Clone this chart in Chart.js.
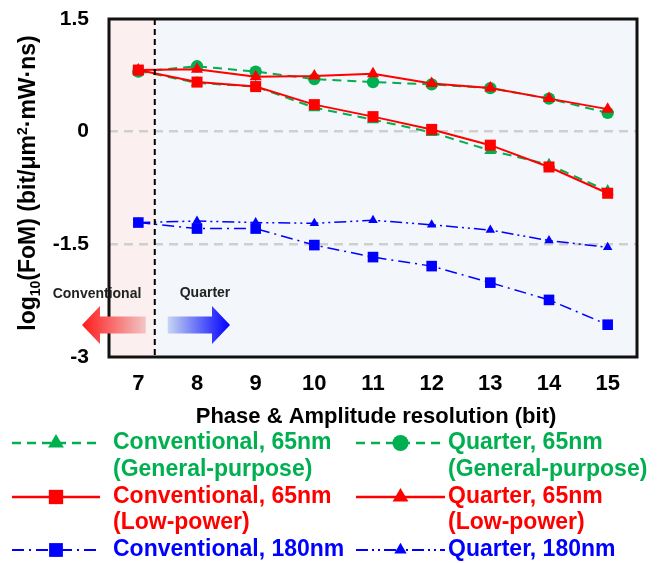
<!DOCTYPE html>
<html>
<head>
<meta charset="utf-8">
<script src="https://cdn.jsdelivr.net/npm/chart.js@4.4.0/dist/chart.umd.min.js"></script>
<style>
  html, body { margin: 0; padding: 0; background: #fff; }
</style>
</head>
<body>
<canvas id="fomChart" width="661" height="563"></canvas>
<script>
// x categories (bit) and tick labels
const resolutionBits = [7, 8, 9, 10, 11, 12, 13, 14, 15];
const yTicks = [-3, -1.5, 0, 1.5];
const dividerBit = 7.28; // conventional / quarter boundary

// log10(FoM) values
const convGeneral = [0.81, 0.65, 0.60, 0.32, 0.16, -0.01, -0.25, -0.44, -0.79];
const quarterGeneral = [0.80, 0.87, 0.80, 0.70, 0.66, 0.63, 0.58, 0.44, 0.25];
const convLowPower = [0.82, 0.66, 0.60, 0.36, 0.20, 0.03, -0.18, -0.47, -0.82];
const quarterLowPower = [0.82, 0.83, 0.73, 0.74, 0.77, 0.64, 0.58, 0.44, 0.30];
const conv180 = [-1.21, -1.29, -1.29, -1.51, -1.67, -1.79, -2.01, -2.24, -2.57];
const quarter180 = [-1.21, -1.19, -1.21, -1.22, -1.18, -1.24, -1.31, -1.45, -1.54];

const GREEN = "#00b050";
const RED = "#ff0000";
const BLUE = "#0000ff";
const FONT = "'Liberation Sans', Arial, sans-serif";

function toPoints(values) {
  return resolutionBits.map((b, i) => ({ x: b, y: values[i] }));
}

// dataset 0 is drawn on top by Chart.js, so red first
const datasets = [
  { label: "Conventional, 65nm|(Low-power)", data: toPoints(convLowPower), borderColor: RED, backgroundColor: RED,
    borderWidth: 2, borderDash: [], pointStyle: "rect", pointRadius: 7.8, legendRow: 2, legendCol: 0 },
  { label: "Quarter, 65nm|(Low-power)", data: toPoints(quarterLowPower), borderColor: RED, backgroundColor: RED,
    borderWidth: 2, borderDash: [], pointStyle: "triangle", pointRadius: 7, legendRow: 2, legendCol: 1 },
  { label: "Conventional, 65nm|(General-purpose)", data: toPoints(convGeneral), borderColor: GREEN, backgroundColor: GREEN,
    borderWidth: 2, borderDash: [9, 6], pointStyle: "triangle", pointRadius: 7, legendRow: 0, legendCol: 0 },
  { label: "Quarter, 65nm|(General-purpose)", data: toPoints(quarterGeneral), borderColor: GREEN, backgroundColor: GREEN,
    borderWidth: 2, borderDash: [9, 6], pointStyle: "circle", pointRadius: 6.2, legendRow: 0, legendCol: 1 },
  { label: "Conventional, 180nm", data: toPoints(conv180), borderColor: BLUE, backgroundColor: BLUE,
    borderWidth: 1.5, borderDash: [12, 5, 2, 5], pointStyle: "rect", pointRadius: 7.5, legendRow: 4, legendCol: 0 },
  { label: "Quarter, 180nm", data: toPoints(quarter180), borderColor: BLUE, backgroundColor: BLUE,
    borderWidth: 1.5, borderDash: [12, 4, 2, 4, 2, 4], pointStyle: "triangle", pointRadius: 5.5, legendRow: 4, legendCol: 1 },
];
datasets.forEach((d) => { d.pointBorderWidth = 0; d.tension = 0; d.fill = false; });

function drawArrow(ctx, tailX, tipX, cy, colorTail, colorTip) {
  const dir = tipX > tailX ? 1 : -1;
  const headL = 18, headH = 19, shaftH = 8.5;
  const baseX = tipX - dir * headL;
  const grad = ctx.createLinearGradient(tailX, 0, tipX, 0);
  grad.addColorStop(0, colorTail);
  grad.addColorStop(1, colorTip);
  ctx.fillStyle = grad;
  ctx.beginPath();
  ctx.moveTo(tailX, cy - shaftH);
  ctx.lineTo(baseX, cy - shaftH);
  ctx.lineTo(baseX, cy - headH);
  ctx.lineTo(tipX, cy);
  ctx.lineTo(baseX, cy + headH);
  ctx.lineTo(baseX, cy + shaftH);
  ctx.lineTo(tailX, cy + shaftH);
  ctx.closePath();
  ctx.fill();
}

const decorPlugin = {
  id: "decor",
  beforeDraw(chart) {
    const { ctx, chartArea: a, scales: { x } } = chart;
    const div = x.getPixelForValue(dividerBit);
    ctx.save();
    ctx.fillStyle = "#f3f6fa";
    ctx.fillRect(a.left, a.top, a.right - a.left, a.bottom - a.top);
    ctx.fillStyle = "#fcefef";
    ctx.fillRect(a.left, a.top, div - a.left, a.bottom - a.top);
    ctx.restore();
  },
  afterDraw(chart) {
    const { ctx, chartArea: a, scales: { x } } = chart;
    const div = x.getPixelForValue(dividerBit);
    ctx.save();

    // region divider
    ctx.strokeStyle = "#000";
    ctx.lineWidth = 2;
    ctx.setLineDash([6, 4]);
    ctx.beginPath();
    ctx.moveTo(div, a.top);
    ctx.lineTo(div, a.bottom);
    ctx.stroke();
    ctx.setLineDash([]);

    // plot frame
    ctx.lineWidth = 3;
    ctx.strokeStyle = "#111";
    ctx.strokeRect(a.left, a.top, a.right - a.left, a.bottom - a.top);

    // arrows + labels
    drawArrow(ctx, div - 9, 82, 325, "#f2c6c6", "#ff1a1a");
    drawArrow(ctx, div + 13, 230, 325, "#c6d6f2", "#0000ff");
    ctx.fillStyle = "#222";
    ctx.font = "bold 14px " + FONT;
    ctx.textAlign = "center";
    ctx.textBaseline = "middle";
    ctx.fillText("Conventional", 97, 294);
    ctx.fillText("Quarter", 205, 293);

    // x title
    ctx.fillStyle = "#000";
    ctx.font = "bold 22px " + FONT;
    ctx.fillText("Phase & Amplitude resolution (bit)", (a.left + a.right) / 2 + 3, 417);

    // y title with sub/superscript
    const parts = [
      { t: "log", s: 23, dy: 0 },
      { t: "10", s: 14, dy: 5 },
      { t: "(FoM) (bit/\u03bcm", s: 23, dy: 0 },
      { t: "2", s: 14, dy: -8 },
      { t: "\u00b7mW\u00b7ns)", s: 23, dy: 0 },
    ];
    let total = 0;
    parts.forEach((p) => { ctx.font = "bold " + p.s + "px " + FONT; p.w = ctx.measureText(p.t).width; total += p.w; });
    ctx.translate(27, (a.top + a.bottom) / 2 - 5);
    ctx.rotate(-Math.PI / 2);
    ctx.textAlign = "left";
    ctx.textBaseline = "alphabetic";
    let px = -total / 2;
    parts.forEach((p) => {
      ctx.font = "bold " + p.s + "px " + FONT;
      ctx.fillText(p.t, px, 8 + p.dy);
      px += p.w;
    });
    ctx.setTransform(1, 0, 0, 1, 0, 0);

    // legend
    const cols = [{ x0: 12, x1: 100, tx: 113 }, { x0: 356, x1: 445, tx: 448 }];
    const rowY = [443, 470, 497, 523, 550];
    chart.data.datasets.forEach((d) => {
      const c = cols[d.legendCol];
      const y = rowY[d.legendRow];
      const mx = (c.x0 + c.x1) / 2;
      ctx.strokeStyle = d.borderColor;
      ctx.lineWidth = d.borderWidth + 0.5;
      ctx.setLineDash(d.borderDash);
      ctx.beginPath();
      ctx.moveTo(c.x0, y);
      ctx.lineTo(c.x1, y);
      ctx.stroke();
      ctx.setLineDash([]);
      ctx.fillStyle = d.backgroundColor;
      Chart.helpers.drawPoint(ctx, { pointStyle: d.pointStyle, radius: d.pointRadius * 1.3, rotation: 0, borderWidth: 0 }, mx, y);
      ctx.fillStyle = d.borderColor;
      ctx.font = "bold 23px " + FONT;
      ctx.textAlign = "left";
      ctx.textBaseline = "middle";
      d.label.split("|").forEach((line, k) => ctx.fillText(line, c.tx, rowY[d.legendRow + k]));
    });
    ctx.restore();
  },
};

new Chart(document.getElementById("fomChart"), {
  type: "line",
  data: { datasets },
  options: {
    responsive: false,
    animation: false,
    layout: { padding: { top: 19, right: 24, bottom: 0, left: 0 } },
    plugins: { legend: { display: false }, tooltip: { enabled: false } },
    scales: {
      x: {
        type: "linear",
        min: 6.5,
        max: 15.5,
        afterBuildTicks: (s) => { s.ticks = resolutionBits.map((v) => ({ value: v })); },
        afterFit: (s) => { s.height = 563 - 357; },
        grid: { display: false, drawTicks: false },
        border: { display: false },
        ticks: { color: "#000", padding: 14, font: { family: FONT, size: 22, weight: "bold" } },
      },
      y: {
        min: -3,
        max: 1.5,
        afterBuildTicks: (s) => { s.ticks = yTicks.map((v) => ({ value: v })); },
        afterFit: (s) => { s.width = 109; s.paddingTop = 0; s.paddingBottom = 0; },
        grid: {
          drawTicks: false,
          lineWidth: 2.5,
          color: (c) => (c.tick && (c.tick.value === 0 || c.tick.value === -1.5) ? "#cfcfcf" : "rgba(0,0,0,0)"),
        },
        border: { display: false, dash: [9, 6] },
        ticks: { color: "#000", padding: 20, font: { family: FONT, size: 21, weight: "bold" } },
      },
    },
  },
  plugins: [decorPlugin],
});
</script>
</body>
</html>
